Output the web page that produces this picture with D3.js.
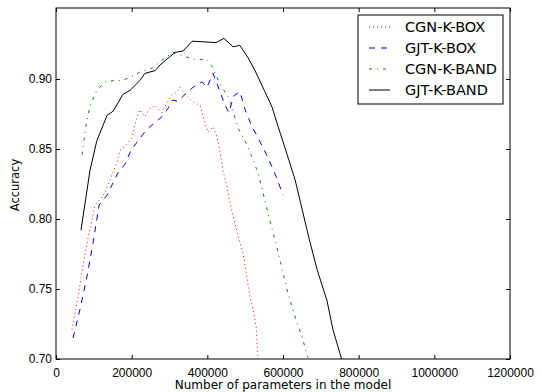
<!DOCTYPE html>
<html>
<head>
<meta charset="utf-8">
<script src="https://cdn.jsdelivr.net/npm/d3@7"></script>
<style>
  body { margin: 0; background: #fff; }
  svg { display: block; font-family: "DejaVu Sans", sans-serif; }
</style>
</head>
<body>
<svg id="chart"></svg>
<script>
// values

var seriesNames = ["CGN-K-BOX", "GJT-K-BOX", "CGN-K-BAND", "GJT-K-BAND"];

var cgnBoxParams = [42000, 58000, 71000, 85000, 95000, 103000, 116000, 130000, 140000, 151000, 161000, 169000, 182000, 201000, 214000, 222000, 235000, 248000, 262000, 280000, 293000, 307000, 315000, 328000, 341000, 360000, 381000, 389000, 402000, 415000, 426000, 434000, 441000, 452000, 460000, 473000, 484000, 494000, 505000, 513000, 521000, 529000, 534000];
var cgnBoxAcc = [0.721, 0.744, 0.766, 0.787, 0.799, 0.810, 0.814, 0.819, 0.826, 0.834, 0.840, 0.849, 0.852, 0.858, 0.873, 0.878, 0.873, 0.879, 0.881, 0.876, 0.883, 0.889, 0.890, 0.894, 0.889, 0.884, 0.881, 0.873, 0.862, 0.866, 0.858, 0.847, 0.835, 0.823, 0.811, 0.797, 0.785, 0.776, 0.758, 0.744, 0.735, 0.723, 0.700];

var gjtBoxParams = [45000, 63000, 82000, 98000, 114000, 135000, 151000, 164000, 182000, 198000, 217000, 240000, 262000, 280000, 296000, 307000, 322000, 341000, 362000, 386000, 399000, 415000, 428000, 447000, 457000, 470000, 486000, 500000, 518000, 534000, 547000, 560000, 584000, 600000];
var gjtBoxAcc = [0.715, 0.735, 0.759, 0.783, 0.810, 0.817, 0.826, 0.833, 0.839, 0.849, 0.856, 0.864, 0.869, 0.873, 0.879, 0.885, 0.884, 0.889, 0.894, 0.898, 0.894, 0.904, 0.895, 0.881, 0.876, 0.888, 0.891, 0.878, 0.866, 0.858, 0.851, 0.844, 0.829, 0.817];

var cgnBandParams = [69000, 79000, 90000, 108000, 130000, 156000, 174000, 196000, 222000, 256000, 283000, 309000, 333000, 362000, 399000, 412000, 434000, 460000, 481000, 505000, 518000, 534000, 547000, 563000, 579000, 597000, 613000, 632000, 650000, 666000];
var cgnBandAcc = [0.846, 0.866, 0.881, 0.892, 0.898, 0.899, 0.899, 0.901, 0.905, 0.908, 0.914, 0.919, 0.917, 0.914, 0.914, 0.909, 0.896, 0.885, 0.865, 0.853, 0.844, 0.833, 0.819, 0.801, 0.785, 0.765, 0.747, 0.730, 0.716, 0.701];

var gjtBandParams = [66000, 90000, 108000, 135000, 151000, 177000, 196000, 222000, 235000, 262000, 275000, 301000, 315000, 336000, 360000, 423000, 444000, 468000, 486000, 508000, 526000, 552000, 571000, 587000, 605000, 632000, 669000, 690000, 716000, 732000, 756000];
var gjtBandAcc = [0.792, 0.835, 0.856, 0.874, 0.877, 0.889, 0.892, 0.899, 0.904, 0.906, 0.910, 0.916, 0.919, 0.920, 0.927, 0.926, 0.929, 0.923, 0.924, 0.915, 0.906, 0.891, 0.880, 0.866, 0.851, 0.828, 0.786, 0.764, 0.742, 0.721, 0.699];

var xTicks = [0, 200000, 400000, 600000, 800000, 1000000, 1200000];
var yTicks = [0.70, 0.75, 0.80, 0.85, 0.90];

var width = 541, height = 392;
var margin = {top: 8, right: 31, bottom: 33, left: 56};

var svg = d3.select("#chart")
    .attr("width", width)
    .attr("height", height);

var x = d3.scaleLinear().domain([0, 1200000]).range([margin.left, width - margin.right]);
var y = d3.scaleLinear().domain([0.70, 0.9507]).range([height - margin.bottom, margin.top]);

var series = [
    {name: seriesNames[0], xs: cgnBoxParams,  ys: cgnBoxAcc,  color: "#ff0000", dash: "1,3"},
    {name: seriesNames[1], xs: gjtBoxParams,  ys: gjtBoxAcc,  color: "#0000ff", dash: "6,6"},
    {name: seriesNames[2], xs: cgnBandParams, ys: cgnBandAcc, color: "#008000", dash: "3,5,1,5"},
    {name: seriesNames[3], xs: gjtBandParams, ys: gjtBandAcc, color: "#000000", dash: null}
];

svg.append("clipPath").attr("id", "plot-clip")
  .append("rect")
    .attr("x", margin.left).attr("y", margin.top)
    .attr("width", width - margin.left - margin.right)
    .attr("height", height - margin.top - margin.bottom);

var line = d3.line()
    .x(d => x(d[0]))
    .y(d => y(d[1]));

svg.append("g")
    .attr("clip-path", "url(#plot-clip)")
    .selectAll("path")
    .data(series)
    .join("path")
    .attr("d", s => line(s.xs.map((v, i) => [v, s.ys[i]])))
    .attr("fill", "none")
    .attr("stroke", s => s.color)
    .attr("stroke-width", 1)
    .attr("stroke-dasharray", s => s.dash);

// axes, matplotlib style: ticks inside on all four sides
function styleAxis(g) {
    g.select(".domain").remove();
    g.selectAll(".tick line").attr("stroke", "#000");
    g.selectAll(".tick text").attr("fill", "#000").style("font-size", "12px");
}

svg.append("g")
    .attr("transform", `translate(0,${height - margin.bottom})`)
    .call(d3.axisBottom(x).tickValues(xTicks).tickFormat(d3.format("d")).tickSizeInner(-4).tickPadding(9))
    .call(styleAxis);

svg.append("g")
    .attr("transform", `translate(0,${margin.top})`)
    .call(d3.axisTop(x).tickValues(xTicks).tickFormat("").tickSizeInner(-4))
    .call(styleAxis);

svg.append("g")
    .attr("transform", `translate(${margin.left},0)`)
    .call(d3.axisLeft(y).tickValues(yTicks).tickFormat(d3.format(".2f")).tickSizeInner(-4).tickPadding(4))
    .call(styleAxis);

svg.append("g")
    .attr("transform", `translate(${width - margin.right},0)`)
    .call(d3.axisRight(y).tickValues(yTicks).tickFormat("").tickSizeInner(-4))
    .call(styleAxis);

svg.append("rect")
    .attr("x", margin.left).attr("y", margin.top)
    .attr("width", width - margin.left - margin.right)
    .attr("height", height - margin.top - margin.bottom)
    .attr("fill", "none")
    .attr("stroke", "#000")
    .attr("stroke-width", 1);

svg.append("text")
    .attr("x", (margin.left + width - margin.right) / 2)
    .attr("y", 389)
    .attr("text-anchor", "middle")
    .style("font-size", "12px")
    .text("Number of parameters in the model");

svg.append("text")
    .attr("transform", `translate(19,185) rotate(-90)`)
    .attr("text-anchor", "middle")
    .style("font-size", "11.5px")
    .text("Accuracy");

// legend
var legend = svg.append("g");
legend.append("rect")
    .attr("x", 358).attr("y", 15)
    .attr("width", 145).attr("height", 89)
    .attr("fill", "#fff")
    .attr("stroke", "#000")
    .attr("stroke-width", 1);

var item = legend.selectAll("g.item")
    .data(series)
    .join("g")
    .attr("class", "item")
    .attr("transform", (d, i) => `translate(0,${27 + i * 21})`);

item.append("line")
    .attr("x1", 369).attr("x2", 390)
    .attr("stroke", d => d.color)
    .attr("stroke-width", 1)
    .attr("stroke-dasharray", d => d.dash);

item.append("text")
    .attr("x", 405)
    .attr("dy", "0.36em")
    .style("font-size", "14.5px")
    .text(d => d.name);
</script>
</body>
</html>
